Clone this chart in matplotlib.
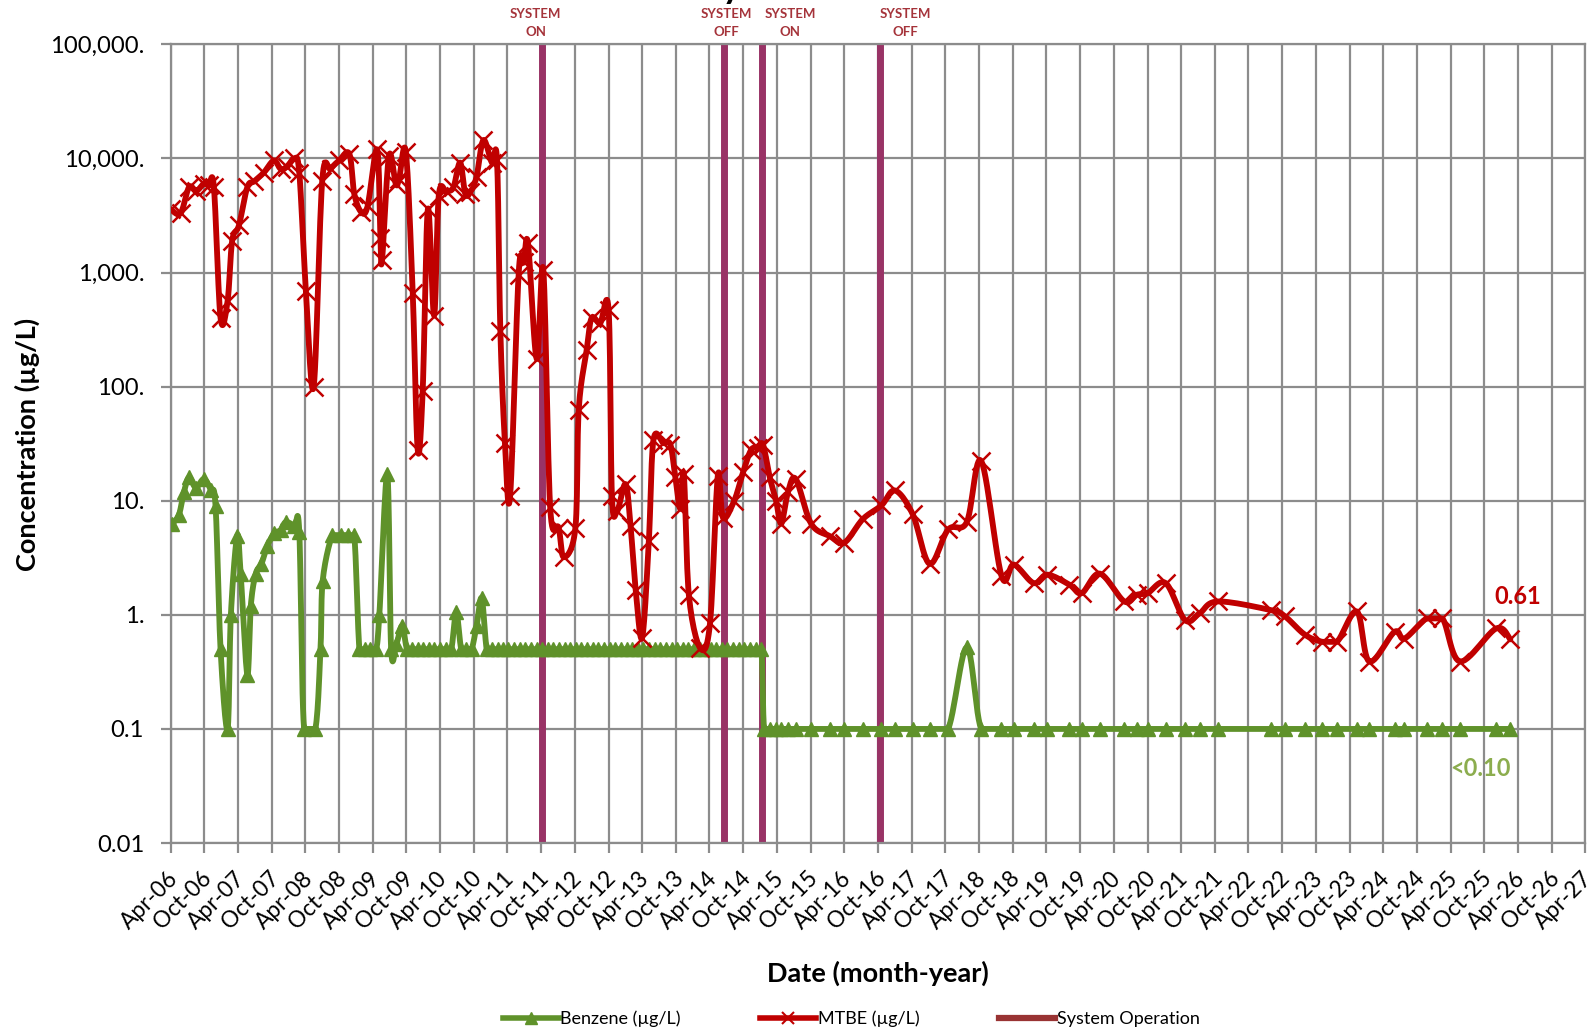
import numpy as np
import pandas as pd
import matplotlib
matplotlib.use("Agg")
import matplotlib.pyplot as plt
import matplotlib.dates as mdates
import matplotlib.transforms as mtransforms
from matplotlib.lines import Line2D

plt.rcParams['font.family'] = ['Lato', 'DejaVu Sans']

# ---------------- data ----------------
mtbe_dates = [
    '2006-04-01', '2006-05-25', '2006-07-10', '2006-08-19', '2006-09-28', '2006-10-25',
    '2006-11-22', '2006-12-28', '2007-02-04', '2007-03-01', '2007-04-07', '2007-05-22',
    '2007-06-28', '2007-08-19', '2007-10-13', '2007-11-19', '2007-12-25', '2008-02-01',
    '2008-02-28', '2008-04-04', '2008-05-16', '2008-07-01', '2008-08-16', '2008-10-01',
    '2008-11-25', '2008-12-22', '2009-01-28', '2009-03-04', '2009-04-25', '2009-05-13',
    '2009-05-22', '2009-06-28', '2009-08-04', '2009-08-22', '2009-09-28', '2009-11-04',
    '2009-12-01', '2009-12-28', '2010-01-25', '2010-02-28', '2010-03-25', '2010-05-07',
    '2010-06-13', '2010-07-19', '2010-08-16', '2010-09-13', '2010-10-16', '2010-11-22',
    '2011-01-07', '2011-02-04', '2011-02-22', '2011-03-19', '2011-04-16', '2011-06-01',
    '2011-06-28', '2011-07-22', '2011-09-07', '2011-10-13', '2011-11-19', '2012-01-04',
    '2012-02-01', '2012-04-04', '2012-04-22', '2012-06-04', '2012-07-01', '2012-08-16',
    '2012-10-01', '2012-10-19', '2012-11-16', '2013-01-01', '2013-01-28', '2013-02-25',
    '2013-04-01', '2013-05-07', '2013-06-01', '2013-07-25', '2013-09-01', '2013-09-28',
    '2013-10-25', '2013-11-13', '2013-12-10', '2014-02-10', '2014-04-04', '2014-05-16',
    '2014-06-13', '2014-08-13', '2014-10-01', '2014-11-13', '2014-12-19', '2015-01-16',
    '2015-02-22', '2015-03-28', '2015-04-25', '2015-06-01', '2015-07-13', '2015-10-04',
    '2016-01-13', '2016-04-01', '2016-07-10', '2016-10-19', '2017-01-01', '2017-04-07',
    '2017-07-07', '2017-10-16', '2018-01-25', '2018-04-13', '2018-08-01', '2018-10-07',
    '2019-01-22', '2019-04-07', '2019-08-04', '2019-10-10', '2020-01-16', '2020-05-28',
    '2020-08-04', '2020-10-01', '2021-01-07', '2021-04-22', '2021-07-10', '2021-10-16',
    '2022-08-01', '2022-10-16', '2023-02-01', '2023-05-07', '2023-07-25', '2023-11-10',
    '2024-01-16', '2024-06-01', '2024-07-25', '2024-11-22', '2025-02-16', '2025-05-22',
    '2025-12-04', '2026-02-19',
]
mtbe_values = [
    3600, 3300, 5600, 5200, 6000, 5800,
    5600, 400, 560, 1900, 2600, 5600,
    6300, 7500, 9600, 8100, 8500, 10000,
    7500, 690, 100, 6300, 8100, 9600,
    11000, 4900, 3400, 3800, 12000, 2000,
    1300, 10500, 6000, 6600, 11300, 660,
    28, 92, 3600, 420, 4700, 5100,
    5600, 9200, 4900, 5100, 6900, 14500,
    9200, 9600, 310, 32, 11, 960,
    1230, 1800, 175, 1050, 8.9, 5.8,
    3.2, 5.8, 63, 210, 400, 360,
    470, 11, 8.1, 14, 6.0, 1.65,
    0.63, 4.4, 34, 32, 31, 16,
    8.5, 17, 1.5, 0.51, 0.85, 16.6,
    7.1, 10, 18, 28, 29, 31,
    16, 10, 6.3, 12, 15.5, 6.3,
    4.9, 4.3, 6.9, 9.1, 12.3, 7.6,
    2.8, 5.6, 6.5, 22.4, 2.2, 2.76,
    1.9, 2.25, 1.84, 1.55, 2.3, 1.31,
    1.5, 1.55, 1.9, 0.9, 1.03, 1.31,
    1.1, 0.97, 0.67, 0.58, 0.58, 1.07,
    0.39, 0.71, 0.62, 0.93, 0.93, 0.39,
    0.76, 0.61,
]

benzene_dates = [
    '2006-04-10', '2006-05-16', '2006-06-13', '2006-07-10', '2006-08-16', '2006-09-28',
    '2006-11-04', '2006-12-01', '2006-12-28', '2007-02-04', '2007-02-22', '2007-03-28',
    '2007-04-16', '2007-05-22', '2007-06-10', '2007-07-07', '2007-08-07', '2007-09-07',
    '2007-10-16', '2007-11-19', '2007-12-16', '2008-02-01', '2008-02-28', '2008-03-25',
    '2008-05-25', '2008-06-22', '2008-07-04', '2008-08-25', '2008-10-10', '2008-11-16',
    '2008-12-22', '2009-01-19', '2009-02-19', '2009-03-19', '2009-04-19', '2009-05-07',
    '2009-06-19', '2009-07-10', '2009-08-07', '2009-09-07', '2009-10-04', '2009-11-01',
    '2009-12-01', '2010-01-01', '2010-02-01', '2010-03-01', '2010-04-01', '2010-05-01',
    '2010-06-01', '2010-06-28', '2010-07-25', '2010-08-22', '2010-09-19', '2010-10-16',
    '2010-11-13', '2010-12-10',
    '2011-01-07', '2011-02-07', '2011-03-07', '2011-04-07', '2011-05-07', '2011-06-07',
    '2011-07-07', '2011-08-07', '2011-09-07', '2011-10-07', '2011-11-07', '2011-12-07',
    '2012-01-07', '2012-02-07', '2012-03-07', '2012-04-07', '2012-05-07', '2012-06-07',
    '2012-07-07', '2012-08-07', '2012-09-07', '2012-10-07', '2012-11-07', '2012-12-07',
    '2013-01-07', '2013-02-07', '2013-03-07', '2013-04-07', '2013-05-07', '2013-06-07',
    '2013-07-07', '2013-08-07', '2013-09-07', '2013-10-07', '2013-11-07', '2013-12-07',
    '2014-01-07', '2014-02-07', '2014-03-07', '2014-04-07', '2014-05-07', '2014-06-07',
    '2014-07-07', '2014-08-07', '2014-09-07', '2014-10-07', '2014-11-07', '2014-12-07',
    '2015-01-07', '2015-01-22',
    '2015-02-22', '2015-03-28', '2015-04-25', '2015-06-01', '2015-07-13', '2015-10-04',
    '2016-01-13', '2016-04-01', '2016-07-10', '2016-10-19', '2017-01-01', '2017-04-07',
    '2017-07-07', '2017-10-16', '2018-01-25', '2018-04-13', '2018-08-01', '2018-10-07',
    '2019-01-22', '2019-04-07', '2019-08-04', '2019-10-10', '2020-01-16', '2020-05-28',
    '2020-08-04', '2020-10-01', '2021-01-07', '2021-04-22', '2021-07-10', '2021-10-16',
    '2022-08-01', '2022-10-16', '2023-02-01', '2023-05-07', '2023-07-25', '2023-11-10',
    '2024-01-16', '2024-06-01', '2024-07-25', '2024-11-22', '2025-02-16', '2025-05-22',
    '2025-12-04', '2026-02-19',
]
benzene_values = [
    6.3, 7.5, 12, 16, 13, 15.5,
    12.5, 9, 0.5, 0.1, 1.0, 4.9,
    2.3, 0.3, 1.2, 2.3, 2.8, 4.0,
    5.2, 5.5, 6.5, 6.0, 5.3, 0.1,
    0.1, 0.5, 2.0, 5.0, 5.0, 5.0,
    5.0, 0.5, 0.5, 0.5, 0.5, 1.0,
    17, 0.5, 0.55, 0.8, 0.5, 0.5,
    0.5, 0.5, 0.5, 0.5, 0.5, 0.5,
    0.5, 1.05, 0.5, 0.5, 0.5, 0.8,
    1.4, 0.5,
    0.5, 0.5, 0.5, 0.5, 0.5, 0.5, 0.5, 0.5, 0.5, 0.5, 0.5, 0.5,
    0.5, 0.5, 0.5, 0.5, 0.5, 0.5, 0.5, 0.5, 0.5, 0.5, 0.5, 0.5,
    0.5, 0.5, 0.5, 0.5, 0.5, 0.5, 0.5, 0.5, 0.5, 0.5, 0.5, 0.5,
    0.5, 0.5, 0.5, 0.5, 0.5, 0.5, 0.5, 0.5, 0.5, 0.5, 0.5, 0.5,
    0.5, 0.1,
    0.1, 0.1, 0.1, 0.1, 0.1, 0.1,
    0.1, 0.1, 0.1, 0.1, 0.1, 0.1,
    0.1, 0.1, 0.52, 0.1, 0.1, 0.1,
    0.1, 0.1, 0.1, 0.1, 0.1, 0.1,
    0.1, 0.1, 0.1, 0.1, 0.1, 0.1,
    0.1, 0.1, 0.1, 0.1, 0.1, 0.1,
    0.1, 0.1, 0.1, 0.1, 0.1, 0.1,
    0.1, 0.1,
]

system_dates = ['2011-10-07', '2014-06-17', '2015-01-10', '2016-10-11']
system_labels = ['SYSTEM\nON', 'SYSTEM\nOFF', 'SYSTEM\nON', 'SYSTEM\nOFF']

y_ticks = [0.01, 0.1, 1, 10, 100, 1000, 10000, 100000]
y_tick_labels = ['0.01', '0.1', '1.', '10.', '100.', '1,000.', '10,000.', '100,000.']

mtbe_last_label = '0.61'
benzene_last_label = '<0.10'

# ---------------- styling ----------------
RED = '#C00000'
GREEN = '#5F922A'
PURPLE = '#993366'
SYS_LEG = '#993333'
GRID = '#8C8C8C'
LBL_RED = '#A5333A'


def to_num(dates):
    return mdates.date2num(pd.to_datetime(dates).to_pydatetime())


def smooth(x, y, n=14):
    """Excel-like smoothed line (Catmull-Rom Bezier) in (x, log y) space."""
    P = np.column_stack([np.asarray(x, float), np.log10(np.asarray(y, float))])
    out = [P[0]]
    t = np.linspace(0, 1, n)[1:, None]
    for i in range(len(P) - 1):
        p0 = P[i - 1] if i > 0 else P[i]
        p1, p2 = P[i], P[i + 1]
        p3 = P[i + 2] if i + 2 < len(P) else P[i + 1]
        c1 = p1 + (p2 - p0) / 6.0
        c2 = p2 - (p3 - p1) / 6.0
        if abs(p1[1] - p2[1]) < 1e-9:      # keep level runs level
            c1 = c1.copy(); c2 = c2.copy()
            c1[1] = p1[1]; c2[1] = p2[1]
        seg = (1 - t) ** 3 * p1 + 3 * (1 - t) ** 2 * t * c1 + 3 * (1 - t) * t ** 2 * c2 + t ** 3 * p2
        out.extend(seg)
    out = np.array(out)
    return out[:, 0], 10 ** out[:, 1]


fig = plt.figure(figsize=(15.94, 10.32), dpi=100)
ax = fig.add_axes([0.107, 0.1831, 0.8875, 0.7739])

xm = to_num(mtbe_dates)
xb = to_num(benzene_dates)

ax.set_yscale('log')
ax.set_ylim(0.01, 100000)
ax.set_xlim(to_num(['2006-04-01'])[0], to_num(['2027-04-01'])[0])

# grid
ax.grid(True, which='major', color=GRID, linewidth=1.6, zorder=0)
ax.minorticks_off()
ax.set_axisbelow(True)
for s in ax.spines.values():
    s.set_color(GRID)
    s.set_linewidth(1.6)

# system operation lines
for d in to_num(system_dates):
    ax.axvline(d, color=PURPLE, linewidth=5, zorder=2)

# series
sx, sy = smooth(xb, benzene_values)
ax.plot(sx, sy, color=GREEN, linewidth=4.2, zorder=3, solid_capstyle='round')
ax.plot(xb, benzene_values, linestyle='none', marker='^', markersize=10.5,
        color=GREEN, zorder=4)

sx, sy = smooth(xm, mtbe_values)
ax.plot(sx, sy, color=RED, linewidth=4.2, zorder=5, solid_capstyle='round')
ax.plot(xm, mtbe_values, linestyle='none', marker='x', markersize=13,
        markeredgewidth=1.8, color=RED, zorder=6)

# ticks
tick_dates = []
for yr in range(2006, 2028):
    tick_dates.append(f'{yr}-04-01')
    if yr < 2027:
        tick_dates.append(f'{yr}-10-01')
ax.set_xticks(to_num(tick_dates))
ax.xaxis.set_major_formatter(mdates.DateFormatter('%b-%y'))
ax.set_yticks(y_ticks)
ax.set_yticklabels(y_tick_labels)
ax.tick_params(axis='both', which='major', color=GRID, width=1.6, length=7,
               labelcolor='black')
ax.tick_params(axis='x', pad=16, labelsize=16.3)
ax.tick_params(axis='y', pad=12, labelsize=17.2)
shift = mtransforms.ScaledTranslation(4 / 100, 0, fig.dpi_scale_trans)
for lab in ax.get_xticklabels():
    lab.set_rotation(45)
    lab.set_ha('right')
    lab.set_va('center')
    lab.set_rotation_mode('anchor')
    lab.set_transform(lab.get_transform() + shift)

# system labels above the plot
trans = mtransforms.blended_transform_factory(ax.transData, ax.transAxes)
label_x = ['2011-09-01', '2014-07-01', '2015-06-13', '2017-02-27']
for d, txt in zip(to_num(label_x), system_labels):
    ax.text(d, 1.0265, txt, transform=trans, ha='center', va='center',
            fontsize=9.5, fontweight='bold', color=LBL_RED, linespacing=1.6,
            family=['Liberation Sans Narrow', 'Lato', 'DejaVu Sans'], clip_on=False)

# end labels
ax.annotate(mtbe_last_label, xy=(xm[-1], mtbe_values[-1]), xytext=(-16, 43),
            textcoords='offset pixels', ha='left', va='center', fontsize=17,
            fontweight='bold', color=RED)
ax.annotate(benzene_last_label, xy=(xb[-1], benzene_values[-1]), xytext=(-60, -40),
            textcoords='offset pixels', ha='left', va='center', fontsize=17,
            fontweight='bold', color='#8CAD4E')

# axis titles
fig.text(27 / 1594, 1 - 444 / 1032, 'Concentration (µg/L)', rotation=90,
         ha='center', va='center', fontsize=19.5, fontweight='bold')
fig.text(878 / 1594, 1 - 973 / 1032, 'Date (month-year)', ha='center', va='center',
         fontsize=19.5, fontweight='bold')

# title cut off at the top of the image
fig.text(0.465, 1.002, 'Concentration History', ha='right', va='baseline',
         fontsize=26, fontweight='bold')

# legend
handles = [
    Line2D([], [], color=GREEN, linewidth=4, marker='^', markersize=8),
    Line2D([], [], color=RED, linewidth=4, marker='x', markersize=8, markeredgewidth=1.5),
    Line2D([], [], color=SYS_LEG, linewidth=4.5),
]
fig.legend(handles, ['Benzene (µg/L)', 'MTBE (µg/L)', 'System Operation'],
           loc='center', bbox_to_anchor=(0.534, 1 - 1019 / 1032), ncol=3,
           frameon=False, fontsize=13, handlelength=3.1, handletextpad=0.1,
           columnspacing=4.4)

fig.savefig('out.png', dpi=100)
